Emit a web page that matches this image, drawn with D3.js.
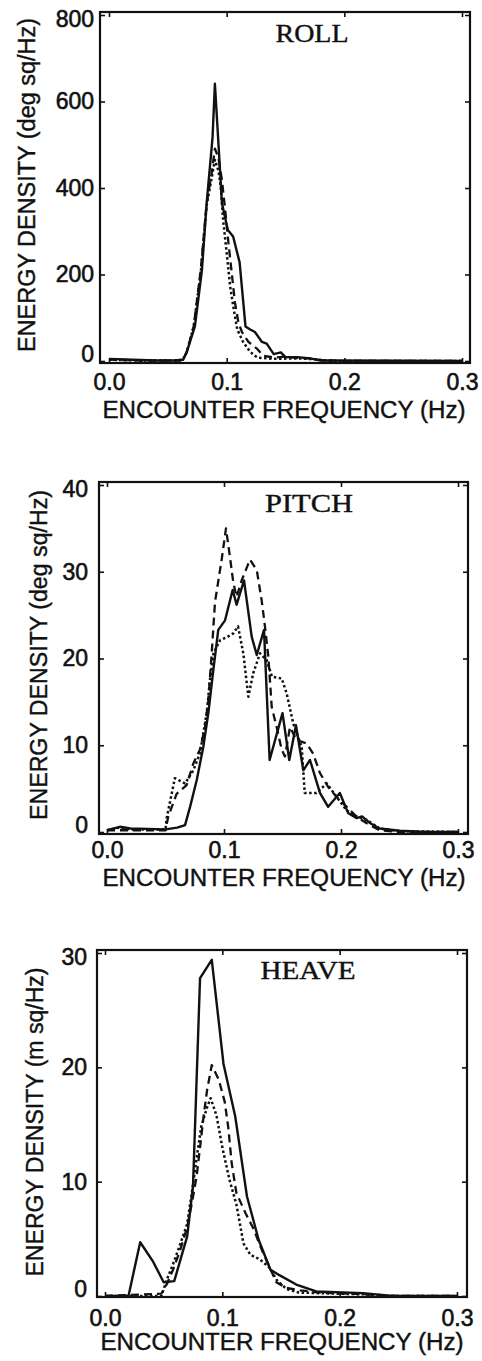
<!DOCTYPE html>
<html>
<head>
<meta charset="utf-8">
<script src="https://cdn.jsdelivr.net/npm/d3@7"></script>
<style>
  body { margin: 0; background: #fff; }
  svg { display: block; }
</style>
</head>
<body>
<div class="canvas"></div>
<script>
// frequency ticks shared by all three panels
const xTicks = [0, 0.1, 0.2, 0.3];
const rollTicks = [0, 200, 400, 600, 800];
const pitchTicks = [0, 10, 20, 30, 40];
const heaveTicks = [0, 10, 20, 30];

// [frequency (Hz), energy density]
const rollSolid = [[0,5],[0.02,3],[0.04,1],[0.055,1],[0.063,3],[0.066,20],[0.073,80],[0.079,211],[0.083,365],
  [0.088,517],[0.09,641],[0.096,365],[0.101,303],[0.1055,288],[0.111,228],[0.116,80],[0.12,73],[0.124,67],
  [0.13,44],[0.134,40],[0.14,16],[0.146,20],[0.15,9],[0.16,9],[0.171,6],[0.18,1],[0.3,0]];
const rollDashed = [[0,3],[0.03,1],[0.06,1],[0.063,5],[0.066,20],[0.072,80],[0.078,211],[0.083,365],[0.087,430],
  [0.09,491],[0.093,470],[0.096,418],[0.099,342],[0.1015,273],[0.104,211],[0.107,136],[0.11,89],[0.113,67],
  [0.1185,44],[0.126,28],[0.131,12],[0.14,8],[0.15,10],[0.16,7],[0.17,6],[0.18,2],[0.2,0],[0.3,0]];
const rollDotted = [[0,3],[0.03,1],[0.06,1],[0.063,5],[0.066,20],[0.072,80],[0.078,205],[0.083,360],[0.087,420],
  [0.09,465],[0.093,440],[0.095,402],[0.097,326],[0.1,250],[0.103,172],[0.106,120],[0.109,73],[0.114,44],
  [0.12,21],[0.126,8],[0.14,5],[0.16,6],[0.175,4],[0.19,0],[0.3,0]];

const pitchSolid = [[0,0.2],[0.011,0.6],[0.02,0.4],[0.05,0.3],[0.06,0.5],[0.0667,0.8],[0.071,2.9],[0.0767,6],
  [0.0823,9.8],[0.0866,13.7],[0.0909,18.7],[0.0951,23.3],[0.1009,24.4],[0.1074,27.9],[0.1108,26.2],[0.1171,29],
  [0.1237,22.5],[0.128,20.4],[0.1342,23.3],[0.139,8.3],[0.15,13.7],[0.1558,8.3],[0.1615,12.3],[0.1678,7.1],
  [0.1735,8.3],[0.182,4.5],[0.189,2.9],[0.199,4.5],[0.206,2.2],[0.2134,1.6],[0.218,1.8],[0.225,1],[0.233,0.4],
  [0.25,0.15],[0.273,0],[0.3,0]];
const pitchDashed = [[0,0.2],[0.05,0.2],[0.0524,1.8],[0.0595,4.4],[0.068,5.4],[0.0738,7.9],[0.0795,9.5],
  [0.0838,12.1],[0.0866,15.2],[0.0895,20.6],[0.0923,26.5],[0.098,31.4],[0.1017,35],[0.1051,31.7],[0.108,28.7],
  [0.1108,27.1],[0.1151,29],[0.1222,31.4],[0.128,30.2],[0.1322,26.7],[0.135,23.7],[0.1379,20.2],[0.1408,14.4],
  [0.145,12.1],[0.1493,9.5],[0.1521,8.7],[0.1564,12.1],[0.162,10.6],[0.1706,10.2],[0.1763,9],[0.182,6.8],
  [0.189,5.2],[0.196,4.1],[0.2048,2.9],[0.213,1.8],[0.222,1],[0.233,0.2],[0.25,0],[0.3,0]];
const pitchDotted = [[0,0.2],[0.01,0.5],[0.02,0.3],[0.05,0.3],[0.051,1.6],[0.058,6.2],[0.0667,5.6],[0.0738,7.1],
  [0.0795,9.1],[0.0852,13.7],[0.088,17.5],[0.091,20.6],[0.0966,22.1],[0.103,22.5],[0.108,22.9],[0.112,23.7],
  [0.1165,20.6],[0.1208,15.6],[0.125,18.3],[0.1308,20.6],[0.1365,19.8],[0.141,17.9],[0.1493,17.7],[0.1535,16],
  [0.1592,12.5],[0.1664,9.8],[0.169,4.5],[0.179,4.5],[0.1878,5.6],[0.196,4.1],[0.2048,2.5],[0.213,1.8],
  [0.222,1.4],[0.233,0.4],[0.25,0.1],[0.3,0]];

const heaveSolid = [[0,0],[0.02,0],[0.03,4.7],[0.041,3],[0.05,1.2],[0.059,1.3],[0.07,5.2],[0.075,9.6],[0.081,27.8],
  [0.091,29.4],[0.101,20.3],[0.111,15.7],[0.121,8.7],[0.131,4.9],[0.141,2.3],[0.149,1.8],[0.163,1],[0.18,0.4],
  [0.22,0.25],[0.245,0],[0.3,0]];
const heaveDashed = [[0,0],[0.048,0.2],[0.053,1.1],[0.058,2.3],[0.064,4],[0.07,6],[0.074,8.1],[0.078,10.4],
  [0.081,13],[0.084,15.7],[0.087,18],[0.091,20.2],[0.097,18.9],[0.102,17],[0.105,14.8],[0.108,11.6],[0.112,9],
  [0.12,7.2],[0.126,6],[0.135,3.7],[0.14,2.6],[0.146,1.2],[0.155,0.7],[0.166,0.5],[0.183,0.3],[0.21,0.2],
  [0.25,0],[0.3,0]];
const heaveDotted = [[0,0],[0.048,0],[0.053,1.5],[0.058,2.8],[0.064,4.5],[0.07,6.3],[0.074,9],[0.078,12],
  [0.082,14.8],[0.087,16.5],[0.09,17.3],[0.095,15.8],[0.1,13],[0.106,10.2],[0.112,8],[0.118,4.6],[0.124,3.6],
  [0.132,3.2],[0.14,2.5],[0.147,1.3],[0.155,0.6],[0.165,0.3],[0.2,0.2],[0.22,0.15],[0.24,0],[0.3,0]];

const styles = [
  { dash: null, width: 2.4 },
  { dash: '8,5', width: 2.3 },
  { dash: '2.5,2.5', width: 2.5 }
];

// layout for each panel (pixel geometry of the scanned page)
const panels = [
  { title: 'ROLL', yLabel: 'ENERGY DENSITY (deg sq/Hz)', yMax: 800, yTicks: rollTicks,
    series: [rollSolid, rollDashed, rollDotted],
    box: { l: 100, r: 470, t: 12, b: 363 }, xr: [109, 462], yr: [361, 15],
    titleX: 312, titleY: 42, titleLen: 73,
    yLabX: 35, yLabY: 185, yLabLen: 334, yPad: 6,
    xLabX: 284, xLabY: 418, xPad: 11 },
  { title: 'PITCH', yLabel: 'ENERGY DENSITY (deg sq/Hz)', yMax: 40, yTicks: pitchTicks,
    series: [pitchSolid, pitchDashed, pitchDotted],
    box: { l: 99, r: 468, t: 482, b: 834 }, xr: [107, 458], yr: [832, 485],
    titleX: 309, titleY: 512, titleLen: 88,
    yLabX: 47, yLabY: 655, yLabLen: 330, yPad: 11,
    xLabX: 284, xLabY: 886, xPad: 8 },
  { title: 'HEAVE', yLabel: 'ENERGY DENSITY (m sq/Hz)', yMax: 30, yTicks: heaveTicks,
    series: [heaveSolid, heaveDashed, heaveDotted],
    box: { l: 97, r: 467, t: 950, b: 1297 }, xr: [105, 457], yr: [1296, 953],
    titleX: 308, titleY: 979, titleLen: 95,
    yLabX: 43, yLabY: 1122, yLabLen: 309, yPad: 10,
    xLabX: 282, xLabY: 1350, xPad: 13 }
];

const svg = d3.select('.canvas')
  .append('svg')
  .attr('width', 482)
  .attr('height', 1361);

const sans = 'Liberation Sans, Arial, Helvetica, sans-serif';
const ink = '#111';

panels.forEach(p => {
  const x = d3.scaleLinear().domain([0, 0.3]).range(p.xr);
  const y = d3.scaleLinear().domain([0, p.yMax]).range(p.yr);
  const g = svg.append('g');

  const line = d3.line()
    .x(d => x(d[0]))
    .y(d => y(d[1]));

  p.series.forEach((s, i) => {
    g.append('path')
      .datum(s)
      .attr('d', line)
      .attr('fill', 'none')
      .attr('stroke', ink)
      .attr('stroke-width', styles[i].width)
      .attr('stroke-linejoin', 'round')
      .attr('stroke-dasharray', styles[i].dash);
  });

  // frame
  g.append('rect')
    .attr('x', p.box.l).attr('y', p.box.t)
    .attr('width', p.box.r - p.box.l).attr('height', p.box.b - p.box.t)
    .attr('fill', 'none').attr('stroke', ink).attr('stroke-width', 2.2);

  // axes, ticks pointing inward
  g.append('g')
    .attr('transform', `translate(0,${p.box.b})`)
    .call(d3.axisBottom(x).tickValues(xTicks).tickFormat(d3.format('.1f'))
      .tickSizeInner(-5).tickSizeOuter(0).tickPadding(p.xPad));
  const left = g.append('g')
    .attr('transform', `translate(${p.box.l},0)`)
    .call(d3.axisLeft(y).tickValues(p.yTicks)
      .tickSizeInner(-5).tickSizeOuter(0).tickPadding(p.yPad));
  g.append('g')
    .attr('transform', `translate(0,${p.box.t})`)
    .call(d3.axisTop(x).tickValues(xTicks).tickFormat('').tickSizeInner(-5).tickSizeOuter(0));
  g.append('g')
    .attr('transform', `translate(${p.box.r},0)`)
    .call(d3.axisRight(y).tickValues(p.yTicks).tickFormat('').tickSizeInner(-5).tickSizeOuter(0));

  g.selectAll('.domain').remove();
  g.selectAll('.tick line').attr('stroke', ink).attr('stroke-width', 1.6);
  g.selectAll('.tick text')
    .attr('font-family', sans)
    .attr('font-size', 23)
    .attr('fill', ink)
    .attr('stroke', ink)
    .attr('stroke-width', 0.6);

  // end labels sit slightly inside the frame, as in the original
  left.selectAll('.tick text')
    .attr('dy', d => d === 0 ? '0.02em' : d === p.yMax ? '0.5em' : '0.32em');

  g.append('text')
    .attr('x', p.titleX).attr('y', p.titleY)
    .attr('text-anchor', 'middle')
    .attr('font-family', 'Liberation Serif, Times New Roman, serif')
    .attr('font-size', 25)
    .attr('textLength', p.titleLen)
    .attr('lengthAdjust', 'spacingAndGlyphs')
    .attr('fill', ink)
    .attr('stroke', ink)
    .attr('stroke-width', 0.4)
    .text(p.title);

  g.append('text')
    .attr('transform', `translate(${p.yLabX},${p.yLabY}) rotate(-90)`)
    .attr('text-anchor', 'middle')
    .attr('font-family', sans)
    .attr('font-size', 23)
    .attr('textLength', p.yLabLen)
    .attr('lengthAdjust', 'spacingAndGlyphs')
    .attr('fill', ink)
    .attr('stroke', ink)
    .attr('stroke-width', 0.4)
    .text(p.yLabel);

  g.append('text')
    .attr('x', p.xLabX).attr('y', p.xLabY)
    .attr('text-anchor', 'middle')
    .attr('font-family', sans)
    .attr('font-size', 23)
    .attr('textLength', 363)
    .attr('lengthAdjust', 'spacingAndGlyphs')
    .attr('fill', ink)
    .attr('stroke', ink)
    .attr('stroke-width', 0.4)
    .text('ENCOUNTER FREQUENCY (Hz)');
});
</script>
</body>
</html>
